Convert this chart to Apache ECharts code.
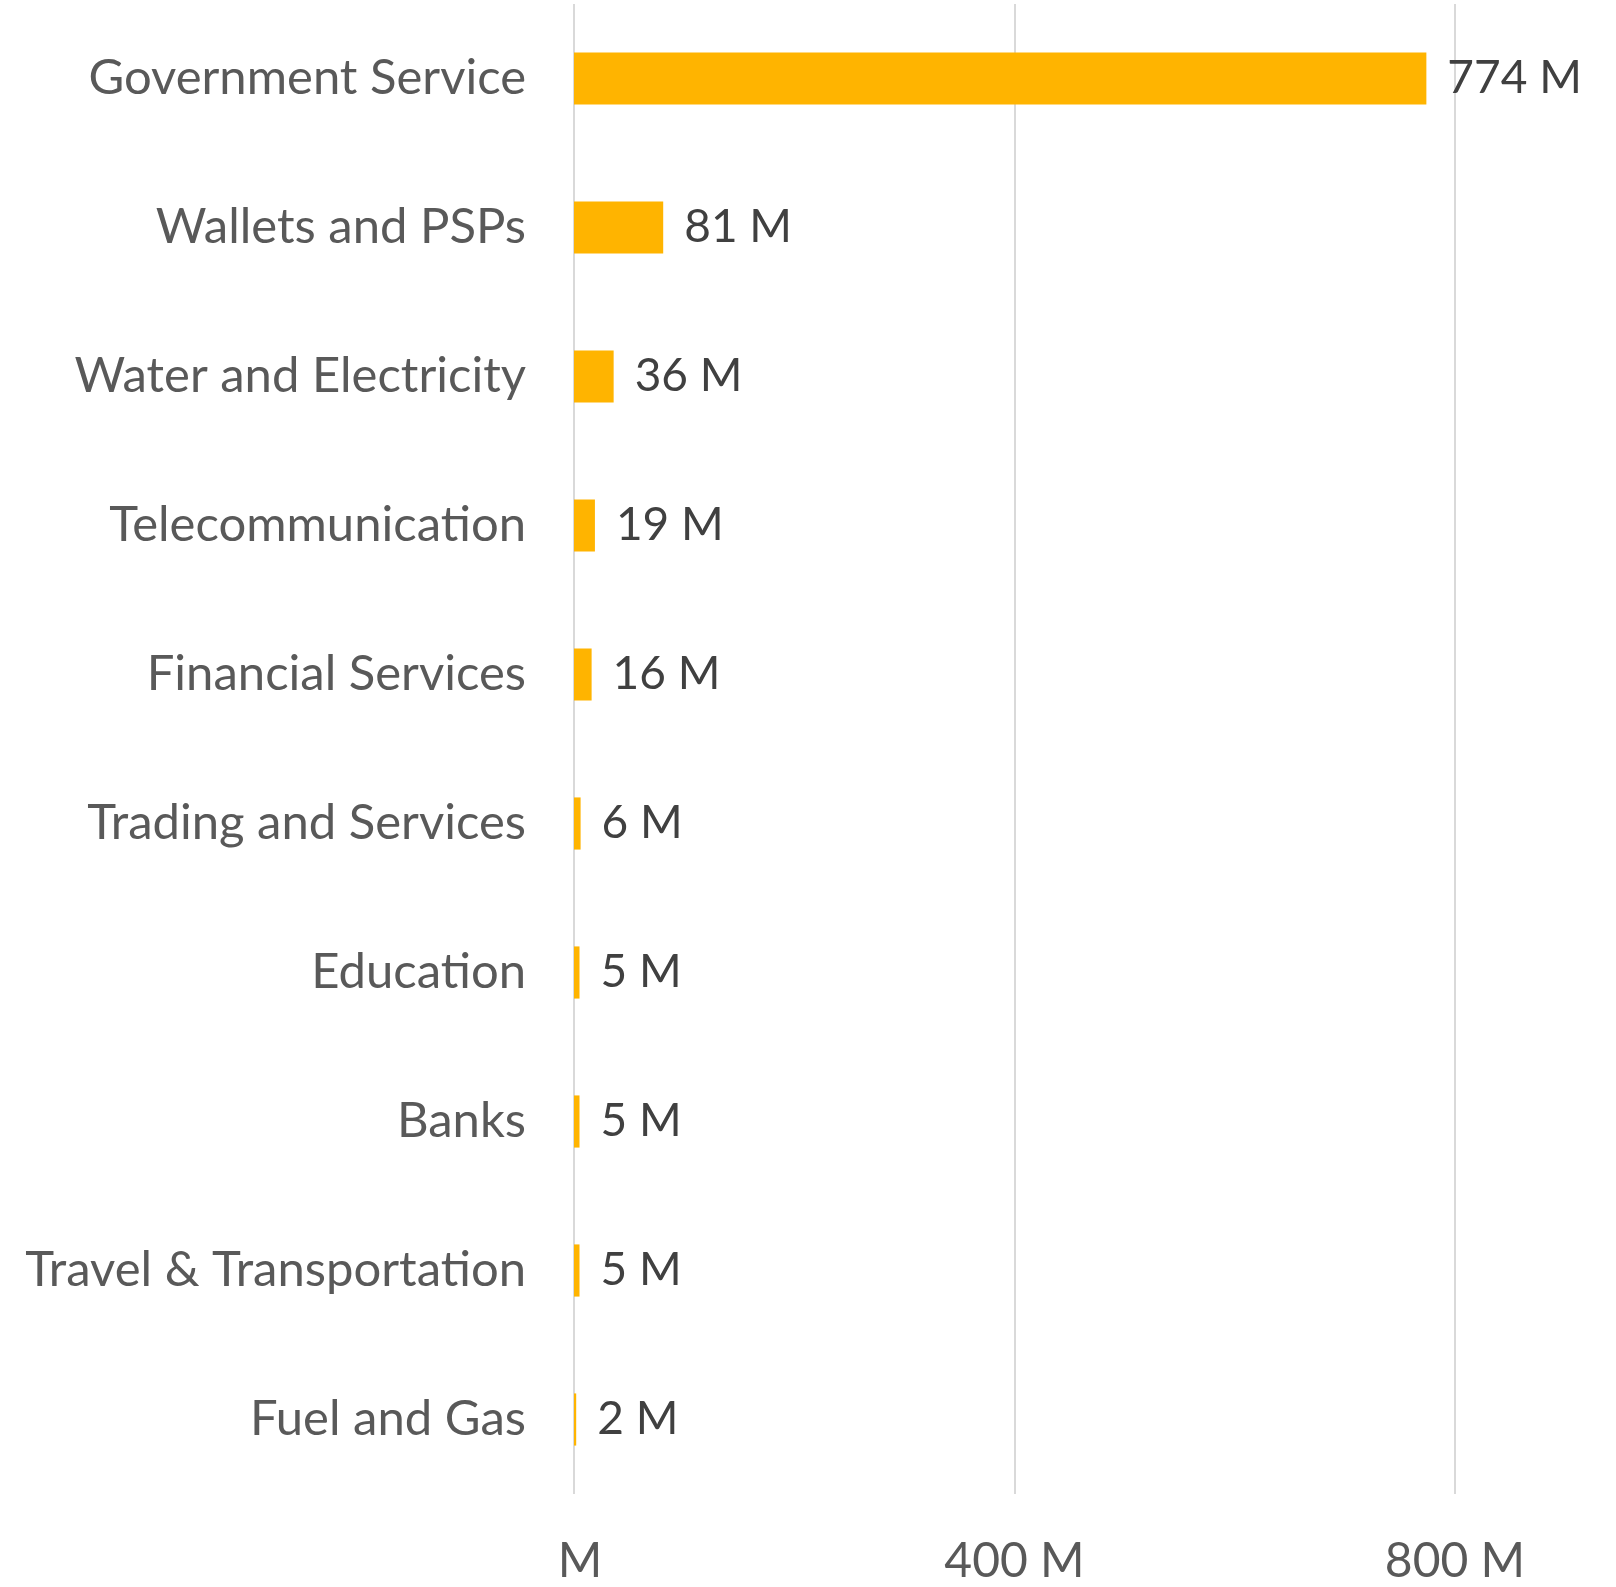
<!DOCTYPE html>
<html>
<head>
<meta charset="utf-8">
<style>html,body{margin:0;padding:0;background:#fff;}#c{width:1616px;height:1587px;}</style>
<script src="https://cdn.jsdelivr.net/npm/echarts@6/dist/echarts.min.js"></script>
</head>
<body>
<div id="c"></div>
<script>
const categories = ["Government Service","Wallets and PSPs","Water and Electricity","Telecommunication","Financial Services","Trading and Services","Education","Banks","Travel & Transportation","Fuel and Gas"];
const values = [774, 81, 36, 19, 16, 6, 5, 5, 5, 2];
const xTicks = [0, 400, 800];

const chart = echarts.init(document.getElementById('c'));
chart.setOption({
  animation: false,
  backgroundColor: '#ffffff',
  textStyle: { fontFamily: 'Lato' },
  grid: { left: 574, right: 161, top: 4, bottom: 93, containLabel: false },
  xAxis: {
    type: 'value', min: xTicks[0], max: xTicks[xTicks.length - 1], interval: xTicks[1] - xTicks[0],
    axisLine: { show: false }, axisTick: { show: false },
    splitLine: { show: true, lineStyle: { color: '#d9d9d9', width: 2 } },
    axisLabel: {
      margin: 44, fontSize: 48, color: '#595959', fontFamily: 'Lato',
      formatter: v => (v === 0 ? ' M' : v + ' M')
    }
  },
  yAxis: {
    type: 'category', data: categories, inverse: true,
    axisLine: { show: false }, axisTick: { show: false },
    axisLabel: { margin: 48, fontSize: 49, color: '#595959', fontFamily: 'Lato' }
  },
  series: [{
    type: 'bar', data: values, barWidth: '35%',
    itemStyle: { color: '#FFB400' },
    label: {
      show: true, position: 'right', distance: 21,
      fontSize: 46, color: '#404040', fontFamily: 'Lato',
      formatter: p => p.value + ' M'
    }
  }]
});
</script>
</body>
</html>
